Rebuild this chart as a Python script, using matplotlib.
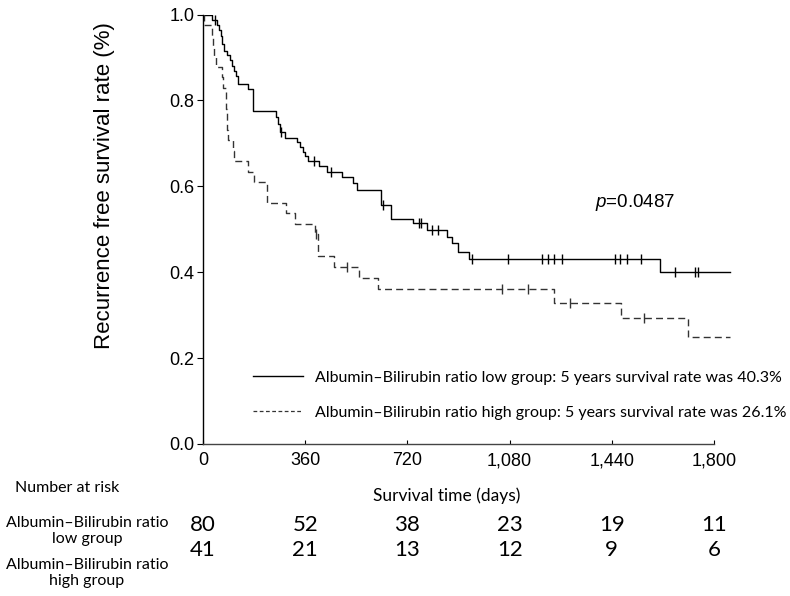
import matplotlib
matplotlib.use("Agg")
import matplotlib.pyplot as plt
from matplotlib.lines import Line2D
from matplotlib import transforms

plt.rcParams['font.family'] = ['Liberation Sans', 'DejaVu Sans']
plt.rcParams['mathtext.fontset'] = 'custom'
plt.rcParams['mathtext.it'] = 'Liberation Sans:italic'
plt.rcParams['mathtext.rm'] = 'Liberation Sans'

# ---- data ----
low_t = [0, 31, 48, 57, 63, 68, 75, 83, 95, 101, 109, 116, 124, 160, 175, 257, 265, 271, 289,
         330, 342, 353, 359, 371, 409, 438, 488, 529, 541, 626, 662, 740, 788, 858, 876, 899,
         938, 1610, 1856]
low_s = [1.0, 0.988, 0.976, 0.963, 0.951, 0.932, 0.916, 0.906, 0.893, 0.880, 0.868, 0.856, 0.838,
         0.826, 0.775, 0.761, 0.745, 0.726, 0.713, 0.703, 0.691, 0.679, 0.671, 0.658, 0.647,
         0.633, 0.621, 0.607, 0.591, 0.556, 0.525, 0.514, 0.498, 0.483, 0.467, 0.448, 0.430,
         0.401, 0.401]
low_cens_t = [42, 274, 391, 451, 635, 762, 767, 805, 829, 946, 1073, 1195, 1216, 1236, 1263,
              1451, 1469, 1492, 1542, 1663, 1733, 1745]
low_cens_s = [0.988, 0.726, 0.658, 0.633, 0.556, 0.514, 0.514, 0.498, 0.498, 0.430, 0.430,
              0.430, 0.430, 0.430, 0.430, 0.430, 0.430, 0.430, 0.430, 0.401, 0.401, 0.401]

high_t = [0, 2, 32, 36, 40, 46, 68, 70, 80, 82, 84, 86, 88, 106, 109, 160, 178, 227, 292, 324,
          394, 404, 461, 551, 615, 1236, 1471, 1710, 1856]
high_s = [1.0, 0.976, 0.951, 0.927, 0.902, 0.878, 0.854, 0.829, 0.805, 0.780, 0.756, 0.732,
          0.707, 0.683, 0.659, 0.634, 0.610, 0.561, 0.537, 0.512, 0.488, 0.438, 0.413, 0.387,
          0.360, 0.328, 0.293, 0.250, 0.250]
high_cens_t = [398, 506, 1052, 1144, 1293, 1555]
high_cens_s = [0.488, 0.413, 0.360, 0.360, 0.328, 0.293]

xticks = [0, 360, 720, 1080, 1440, 1800]
xtick_labels = ["0", "360", "720", "1,080", "1,440", "1,800"]
yticks = [0.0, 0.2, 0.4, 0.6, 0.8, 1.0]

risk_low = [80, 52, 38, 23, 19, 11]
risk_high = [41, 21, 13, 12, 9, 6]

legend_low = "Albumin\u2013Bilirubin ratio low group: 5 years survival rate was 40.3%"
legend_high = "Albumin\u2013Bilirubin ratio high group: 5 years survival rate was 26.1%"
p_text = "$p$=0.0487"

# ---- figure ----
W, H = 790, 596
fig = plt.figure(figsize=(W / 100, H / 100), dpi=100)
x0, x1 = 0, 1870
ax = fig.add_axes([203 / W, 1 - 444 / H, (1870 * 0.28389) / W, (444 - 14.5) / H])
ax.set_xlim(x0, x1)
ax.set_ylim(0, 1.0)

ax.step(low_t, low_s, where='post', color='black', lw=1.0)
ax.step(high_t, high_s, where='post', color='#333333', lw=1.0, linestyle=(0, (5, 3)))
ax.plot(low_cens_t, low_cens_s, linestyle='none', marker='|', ms=7, mew=1.0, color='black')
ax.plot(high_cens_t, high_cens_s, linestyle='none', marker='|', ms=7, mew=1.0, color='#333333')

for s in ['top', 'right']:
    ax.spines[s].set_visible(False)
ax.spines['bottom'].set_bounds(0, 1800)
ax.spines['left'].set_bounds(0, 1.0)
ax.spines['left'].set_linewidth(1.0)
ax.spines['bottom'].set_linewidth(1.0)
ax.spines['bottom'].set_color('#444444')

ax.set_xticks(xticks)
ax.set_xticklabels(xtick_labels, fontsize=13)
ax.set_yticks(yticks)
ax.set_yticklabels([f"{v:.1f}" for v in yticks], fontsize=13)
ax.tick_params(axis='x', direction='in', length=3, pad=6)
ax.tick_params(axis='y', direction='out', length=4, pad=2)

fig.text(105 / W, 1 - 186 / H, "Recurrence free survival rate (%)", rotation=90,
         ha='center', va='center', fontsize=16)

ax.text(1380, 0.563, p_text, fontsize=13.5, ha='left', va='center')

narrow = ['Lato', 'DejaVu Sans']
handles = [Line2D([], [], color='black', lw=1.0),
           Line2D([], [], color='#333333', lw=0.9, linestyle=(0, (3, 2)))]
leg = ax.legend(handles, [legend_low, legend_high], loc='center left',
                bbox_to_anchor=((253 - 203) / (1870 * 0.28389), (444 - 395) / 429.5),
                frameon=False, prop={'family': narrow, 'size': 11.5},
                handlelength=3.1, handletextpad=0.8, labelspacing=1.3, borderpad=0,
                borderaxespad=0)

# ---- risk table ----
fig.text(15 / W, 1 - 488 / H, "Number at risk", family=narrow, fontsize=11.5,
         ha='left', va='center')
fig.text(447 / W, 1 - 496 / H, "Survival time (days)", family=narrow, fontsize=12.5,
         ha='center', va='center')
fig.text(87 / W, 1 - 531 / H, "Albumin\u2013Bilirubin ratio\nlow group", family=narrow,
         fontsize=11.5, ha='center', va='center', multialignment='center', linespacing=1.15)
fig.text(87 / W, 1 - 573 / H, "Albumin\u2013Bilirubin ratio\nhigh group", family=narrow,
         fontsize=11.5, ha='center', va='center', multialignment='center', linespacing=1.15)
trans = transforms.blended_transform_factory(ax.transData, fig.transFigure)
for xt, a, b in zip(xticks, risk_low, risk_high):
    ax.text(xt, 1 - 525 / H, str(a), transform=trans, family=narrow, fontsize=16,
            ha='center', va='center', clip_on=False)
    ax.text(xt, 1 - 550 / H, str(b), transform=trans, family=narrow, fontsize=16,
            ha='center', va='center', clip_on=False)

fig.savefig("out.png", dpi=100)
